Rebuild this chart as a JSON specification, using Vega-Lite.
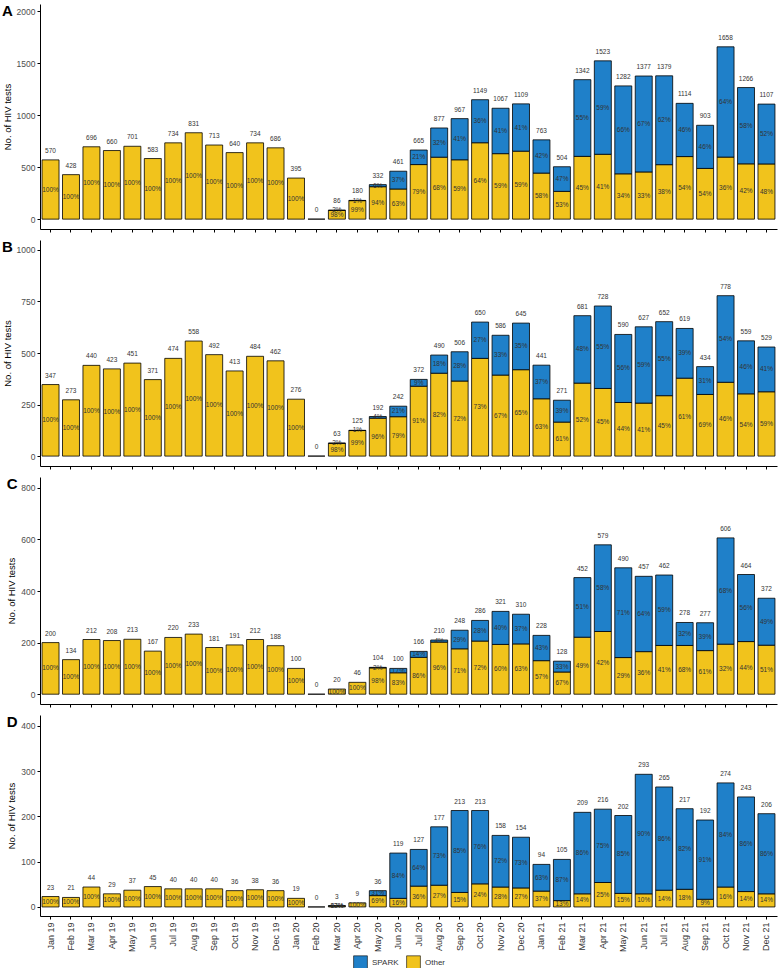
{
  "$schema": "https://vega.github.io/schema/vega-lite/v6.json",
  "padding": {"left": 2, "right": 2, "top": 4, "bottom": 0},
  "spacing": 7,
  "config": {
    "font": "Liberation Sans",
    "view": {"stroke": null},
    "axis": {"grid": false, "domainColor": "black", "tickColor": "black", "tickSize": 3, "labelColor": "#4d4d4d", "labelFontSize": 8.5, "labelPadding": 2, "titleFontSize": 9.5, "titleFontWeight": "normal", "titleColor": "black", "titlePadding": 4},
    "axisY": {"format": "d"},
    "legend": {"orient": "none", "legendX": 313, "legendY": 951, "direction": "horizontal", "title": null, "symbolType": "square", "symbolSize": 190, "symbolStrokeColor": "black", "symbolStrokeWidth": 0.6, "labelFontSize": 8, "labelColor": "#333", "columnPadding": 6, "padding": 0},
    "title": {"anchor": "start", "frame": "bounds", "fontSize": 15, "fontWeight": "bold", "color": "black", "offset": -15}
  },
  "resolve": {"scale": {"color": "shared"}, "legend": {"color": "shared"}},
  "datasets": {
    "A": [
      {"m":"Jan 19","g":"Other","n":570,"q":100},{"m":"Feb 19","g":"Other","n":428,"q":100},{"m":"Mar 19","g":"Other","n":696,"q":100},{"m":"Apr 19","g":"Other","n":660,"q":100},{"m":"May 19","g":"Other","n":701,"q":100},{"m":"Jun 19","g":"Other","n":583,"q":100},{"m":"Jul 19","g":"Other","n":734,"q":100},{"m":"Aug 19","g":"Other","n":831,"q":100},{"m":"Sep 19","g":"Other","n":713,"q":100},{"m":"Oct 19","g":"Other","n":640,"q":100},{"m":"Nov 19","g":"Other","n":734,"q":100},{"m":"Dec 19","g":"Other","n":686,"q":100},{"m":"Jan 20","g":"Other","n":395,"q":100},{"m":"Feb 20","g":"Other","n":0,"q":0},
      {"m":"Mar 20","g":"Other","n":84,"q":98},{"m":"Mar 20","g":"SPARK","n":2,"q":2},
      {"m":"Apr 20","g":"Other","n":178,"q":99},{"m":"Apr 20","g":"SPARK","n":2,"q":1},
      {"m":"May 20","g":"Other","n":312,"q":94},{"m":"May 20","g":"SPARK","n":20,"q":6},
      {"m":"Jun 20","g":"Other","n":290,"q":63},{"m":"Jun 20","g":"SPARK","n":171,"q":37},
      {"m":"Jul 20","g":"Other","n":525,"q":79},{"m":"Jul 20","g":"SPARK","n":140,"q":21},
      {"m":"Aug 20","g":"Other","n":596,"q":68},{"m":"Aug 20","g":"SPARK","n":281,"q":32},
      {"m":"Sep 20","g":"Other","n":571,"q":59},{"m":"Sep 20","g":"SPARK","n":396,"q":41},
      {"m":"Oct 20","g":"Other","n":735,"q":64},{"m":"Oct 20","g":"SPARK","n":414,"q":36},
      {"m":"Nov 20","g":"Other","n":630,"q":59},{"m":"Nov 20","g":"SPARK","n":437,"q":41},
      {"m":"Dec 20","g":"Other","n":654,"q":59},{"m":"Dec 20","g":"SPARK","n":455,"q":41},
      {"m":"Jan 21","g":"Other","n":443,"q":58},{"m":"Jan 21","g":"SPARK","n":320,"q":42},
      {"m":"Feb 21","g":"Other","n":267,"q":53},{"m":"Feb 21","g":"SPARK","n":237,"q":47},
      {"m":"Mar 21","g":"Other","n":604,"q":45},{"m":"Mar 21","g":"SPARK","n":738,"q":55},
      {"m":"Apr 21","g":"Other","n":624,"q":41},{"m":"Apr 21","g":"SPARK","n":899,"q":59},
      {"m":"May 21","g":"Other","n":436,"q":34},{"m":"May 21","g":"SPARK","n":846,"q":66},
      {"m":"Jun 21","g":"Other","n":454,"q":33},{"m":"Jun 21","g":"SPARK","n":923,"q":67},
      {"m":"Jul 21","g":"Other","n":524,"q":38},{"m":"Jul 21","g":"SPARK","n":855,"q":62},
      {"m":"Aug 21","g":"Other","n":602,"q":54},{"m":"Aug 21","g":"SPARK","n":512,"q":46},
      {"m":"Sep 21","g":"Other","n":488,"q":54},{"m":"Sep 21","g":"SPARK","n":415,"q":46},
      {"m":"Oct 21","g":"Other","n":597,"q":36},{"m":"Oct 21","g":"SPARK","n":1061,"q":64},
      {"m":"Nov 21","g":"Other","n":532,"q":42},{"m":"Nov 21","g":"SPARK","n":734,"q":58},
      {"m":"Dec 21","g":"Other","n":531,"q":48},{"m":"Dec 21","g":"SPARK","n":576,"q":52}
    ],
    "B": [
      {"m":"Jan 19","g":"Other","n":347,"q":100},{"m":"Feb 19","g":"Other","n":273,"q":100},{"m":"Mar 19","g":"Other","n":440,"q":100},{"m":"Apr 19","g":"Other","n":423,"q":100},{"m":"May 19","g":"Other","n":451,"q":100},{"m":"Jun 19","g":"Other","n":371,"q":100},{"m":"Jul 19","g":"Other","n":474,"q":100},{"m":"Aug 19","g":"Other","n":558,"q":100},{"m":"Sep 19","g":"Other","n":492,"q":100},{"m":"Oct 19","g":"Other","n":413,"q":100},{"m":"Nov 19","g":"Other","n":484,"q":100},{"m":"Dec 19","g":"Other","n":462,"q":100},{"m":"Jan 20","g":"Other","n":276,"q":100},{"m":"Feb 20","g":"Other","n":0,"q":0},
      {"m":"Mar 20","g":"Other","n":62,"q":98},{"m":"Mar 20","g":"SPARK","n":1,"q":2},
      {"m":"Apr 20","g":"Other","n":124,"q":99},{"m":"Apr 20","g":"SPARK","n":1,"q":1},
      {"m":"May 20","g":"Other","n":184,"q":96},{"m":"May 20","g":"SPARK","n":8,"q":4},
      {"m":"Jun 20","g":"Other","n":191,"q":79},{"m":"Jun 20","g":"SPARK","n":51,"q":21},
      {"m":"Jul 20","g":"Other","n":339,"q":91},{"m":"Jul 20","g":"SPARK","n":33,"q":9},
      {"m":"Aug 20","g":"Other","n":402,"q":82},{"m":"Aug 20","g":"SPARK","n":88,"q":18},
      {"m":"Sep 20","g":"Other","n":364,"q":72},{"m":"Sep 20","g":"SPARK","n":142,"q":28},
      {"m":"Oct 20","g":"Other","n":474,"q":73},{"m":"Oct 20","g":"SPARK","n":176,"q":27},
      {"m":"Nov 20","g":"Other","n":393,"q":67},{"m":"Nov 20","g":"SPARK","n":193,"q":33},
      {"m":"Dec 20","g":"Other","n":419,"q":65},{"m":"Dec 20","g":"SPARK","n":226,"q":35},
      {"m":"Jan 21","g":"Other","n":278,"q":63},{"m":"Jan 21","g":"SPARK","n":163,"q":37},
      {"m":"Feb 21","g":"Other","n":165,"q":61},{"m":"Feb 21","g":"SPARK","n":106,"q":39},
      {"m":"Mar 21","g":"Other","n":354,"q":52},{"m":"Mar 21","g":"SPARK","n":327,"q":48},
      {"m":"Apr 21","g":"Other","n":328,"q":45},{"m":"Apr 21","g":"SPARK","n":400,"q":55},
      {"m":"May 21","g":"Other","n":260,"q":44},{"m":"May 21","g":"SPARK","n":330,"q":56},
      {"m":"Jun 21","g":"Other","n":257,"q":41},{"m":"Jun 21","g":"SPARK","n":370,"q":59},
      {"m":"Jul 21","g":"Other","n":293,"q":45},{"m":"Jul 21","g":"SPARK","n":359,"q":55},
      {"m":"Aug 21","g":"Other","n":378,"q":61},{"m":"Aug 21","g":"SPARK","n":241,"q":39},
      {"m":"Sep 21","g":"Other","n":299,"q":69},{"m":"Sep 21","g":"SPARK","n":135,"q":31},
      {"m":"Oct 21","g":"Other","n":358,"q":46},{"m":"Oct 21","g":"SPARK","n":420,"q":54},
      {"m":"Nov 21","g":"Other","n":302,"q":54},{"m":"Nov 21","g":"SPARK","n":257,"q":46},
      {"m":"Dec 21","g":"Other","n":312,"q":59},{"m":"Dec 21","g":"SPARK","n":217,"q":41}
    ],
    "C": [
      {"m":"Jan 19","g":"Other","n":200,"q":100},{"m":"Feb 19","g":"Other","n":134,"q":100},{"m":"Mar 19","g":"Other","n":212,"q":100},{"m":"Apr 19","g":"Other","n":208,"q":100},{"m":"May 19","g":"Other","n":213,"q":100},{"m":"Jun 19","g":"Other","n":167,"q":100},{"m":"Jul 19","g":"Other","n":220,"q":100},{"m":"Aug 19","g":"Other","n":233,"q":100},{"m":"Sep 19","g":"Other","n":181,"q":100},{"m":"Oct 19","g":"Other","n":191,"q":100},{"m":"Nov 19","g":"Other","n":212,"q":100},{"m":"Dec 19","g":"Other","n":188,"q":100},{"m":"Jan 20","g":"Other","n":100,"q":100},{"m":"Feb 20","g":"Other","n":0,"q":0},
      {"m":"Mar 20","g":"Other","n":20,"q":100},
      {"m":"Apr 20","g":"Other","n":46,"q":100},
      {"m":"May 20","g":"Other","n":102,"q":98},{"m":"May 20","g":"SPARK","n":2,"q":2},
      {"m":"Jun 20","g":"Other","n":83,"q":83},{"m":"Jun 20","g":"SPARK","n":17,"q":17},
      {"m":"Jul 20","g":"Other","n":143,"q":86},{"m":"Jul 20","g":"SPARK","n":23,"q":14},
      {"m":"Aug 20","g":"Other","n":202,"q":96},{"m":"Aug 20","g":"SPARK","n":8,"q":4},
      {"m":"Sep 20","g":"Other","n":176,"q":71},{"m":"Sep 20","g":"SPARK","n":72,"q":29},
      {"m":"Oct 20","g":"Other","n":206,"q":72},{"m":"Oct 20","g":"SPARK","n":80,"q":28},
      {"m":"Nov 20","g":"Other","n":193,"q":60},{"m":"Nov 20","g":"SPARK","n":128,"q":40},
      {"m":"Dec 20","g":"Other","n":195,"q":63},{"m":"Dec 20","g":"SPARK","n":115,"q":37},
      {"m":"Jan 21","g":"Other","n":130,"q":57},{"m":"Jan 21","g":"SPARK","n":98,"q":43},
      {"m":"Feb 21","g":"Other","n":86,"q":67},{"m":"Feb 21","g":"SPARK","n":42,"q":33},
      {"m":"Mar 21","g":"Other","n":221,"q":49},{"m":"Mar 21","g":"SPARK","n":231,"q":51},
      {"m":"Apr 21","g":"Other","n":243,"q":42},{"m":"Apr 21","g":"SPARK","n":336,"q":58},
      {"m":"May 21","g":"Other","n":142,"q":29},{"m":"May 21","g":"SPARK","n":348,"q":71},
      {"m":"Jun 21","g":"Other","n":165,"q":36},{"m":"Jun 21","g":"SPARK","n":292,"q":64},
      {"m":"Jul 21","g":"Other","n":189,"q":41},{"m":"Jul 21","g":"SPARK","n":273,"q":59},
      {"m":"Aug 21","g":"Other","n":189,"q":68},{"m":"Aug 21","g":"SPARK","n":89,"q":32},
      {"m":"Sep 21","g":"Other","n":169,"q":61},{"m":"Sep 21","g":"SPARK","n":108,"q":39},
      {"m":"Oct 21","g":"Other","n":194,"q":32},{"m":"Oct 21","g":"SPARK","n":412,"q":68},
      {"m":"Nov 21","g":"Other","n":204,"q":44},{"m":"Nov 21","g":"SPARK","n":260,"q":56},
      {"m":"Dec 21","g":"Other","n":190,"q":51},{"m":"Dec 21","g":"SPARK","n":182,"q":49}
    ],
    "D": [
      {"m":"Jan 19","g":"Other","n":23,"q":100},{"m":"Feb 19","g":"Other","n":21,"q":100},{"m":"Mar 19","g":"Other","n":44,"q":100},{"m":"Apr 19","g":"Other","n":29,"q":100},{"m":"May 19","g":"Other","n":37,"q":100},{"m":"Jun 19","g":"Other","n":45,"q":100},{"m":"Jul 19","g":"Other","n":40,"q":100},{"m":"Aug 19","g":"Other","n":40,"q":100},{"m":"Sep 19","g":"Other","n":40,"q":100},{"m":"Oct 19","g":"Other","n":36,"q":100},{"m":"Nov 19","g":"Other","n":38,"q":100},{"m":"Dec 19","g":"Other","n":36,"q":100},{"m":"Jan 20","g":"Other","n":19,"q":100},{"m":"Feb 20","g":"Other","n":0,"q":0},
      {"m":"Mar 20","g":"Other","n":2,"q":67},{"m":"Mar 20","g":"SPARK","n":1,"q":33},
      {"m":"Apr 20","g":"Other","n":9,"q":100},
      {"m":"May 20","g":"Other","n":25,"q":69},{"m":"May 20","g":"SPARK","n":11,"q":31},
      {"m":"Jun 20","g":"Other","n":19,"q":16},{"m":"Jun 20","g":"SPARK","n":100,"q":84},
      {"m":"Jul 20","g":"Other","n":46,"q":36},{"m":"Jul 20","g":"SPARK","n":81,"q":64},
      {"m":"Aug 20","g":"Other","n":48,"q":27},{"m":"Aug 20","g":"SPARK","n":129,"q":73},
      {"m":"Sep 20","g":"Other","n":32,"q":15},{"m":"Sep 20","g":"SPARK","n":181,"q":85},
      {"m":"Oct 20","g":"Other","n":51,"q":24},{"m":"Oct 20","g":"SPARK","n":162,"q":76},
      {"m":"Nov 20","g":"Other","n":44,"q":28},{"m":"Nov 20","g":"SPARK","n":114,"q":72},
      {"m":"Dec 20","g":"Other","n":42,"q":27},{"m":"Dec 20","g":"SPARK","n":112,"q":73},
      {"m":"Jan 21","g":"Other","n":35,"q":37},{"m":"Jan 21","g":"SPARK","n":59,"q":63},
      {"m":"Feb 21","g":"Other","n":14,"q":13},{"m":"Feb 21","g":"SPARK","n":91,"q":87},
      {"m":"Mar 21","g":"Other","n":29,"q":14},{"m":"Mar 21","g":"SPARK","n":180,"q":86},
      {"m":"Apr 21","g":"Other","n":54,"q":25},{"m":"Apr 21","g":"SPARK","n":162,"q":75},
      {"m":"May 21","g":"Other","n":30,"q":15},{"m":"May 21","g":"SPARK","n":172,"q":85},
      {"m":"Jun 21","g":"Other","n":29,"q":10},{"m":"Jun 21","g":"SPARK","n":264,"q":90},
      {"m":"Jul 21","g":"Other","n":37,"q":14},{"m":"Jul 21","g":"SPARK","n":228,"q":86},
      {"m":"Aug 21","g":"Other","n":39,"q":18},{"m":"Aug 21","g":"SPARK","n":178,"q":82},
      {"m":"Sep 21","g":"Other","n":17,"q":9},{"m":"Sep 21","g":"SPARK","n":175,"q":91},
      {"m":"Oct 21","g":"Other","n":44,"q":16},{"m":"Oct 21","g":"SPARK","n":230,"q":84},
      {"m":"Nov 21","g":"Other","n":34,"q":14},{"m":"Nov 21","g":"SPARK","n":209,"q":86},
      {"m":"Dec 21","g":"Other","n":29,"q":14},{"m":"Dec 21","g":"SPARK","n":177,"q":86}
    ]
  },
  "vconcat": [
    {
      "data": {"name": "A"},
      "width": 737, "height": 225,
      "title": {"text": "A"},
      "encoding": {
        "x": {"field": "m", "type": "nominal", "scale": {"domain": ["Jan 19","Feb 19","Mar 19","Apr 19","May 19","Jun 19","Jul 19","Aug 19","Sep 19","Oct 19","Nov 19","Dec 19","Jan 20","Feb 20","Mar 20","Apr 20","May 20","Jun 20","Jul 20","Aug 20","Sep 20","Oct 20","Nov 20","Dec 20","Jan 21","Feb 21","Mar 21","Apr 21","May 21","Jun 21","Jul 21","Aug 21","Sep 21","Oct 21","Nov 21","Dec 21"], "paddingInner": 0.17, "paddingOuter": 0.1}, "axis": {"title": null, "labels": false}}
      },
      "layer": [
        {
          "transform": [{"stack": "n", "groupby": ["m"], "sort": [{"field": "g", "order": "ascending"}], "as": ["y0", "y1"]}],
          "mark": {"type": "bar", "stroke": "black", "strokeWidth": 0.8},
          "encoding": {
            "y": {"field": "y0", "type": "quantitative", "scale": {"domain": [-95, 2070], "nice": false, "zero": false}, "axis": {"values": [0, 500, 1000, 1500, 2000], "title": "No. of HIV tests"}},
            "y2": {"field": "y1"},
            "color": {"field": "g", "type": "nominal", "scale": {"domain": ["SPARK", "Other"], "range": ["#1f80c9", "#f1c31c"]}}
          }
        },
        {
          "transform": [
            {"stack": "n", "groupby": ["m"], "sort": [{"field": "g", "order": "ascending"}], "as": ["y0", "y1"]},
            {"filter": "datum.q > 0"},
            {"calculate": "(datum.y0 + datum.y1) / 2", "as": "ym"},
            {"calculate": "datum.q + '%'", "as": "lab"}
          ],
          "mark": {"type": "text", "fontSize": 6.5, "color": "#333"},
          "encoding": {"y": {"field": "ym", "type": "quantitative"}, "text": {"field": "lab"}}
        },
        {
          "transform": [{"aggregate": [{"op": "sum", "field": "n", "as": "t"}], "groupby": ["m"]}],
          "mark": {"type": "text", "fontSize": 6.5, "color": "#333", "baseline": "bottom", "dy": -6},
          "encoding": {"y": {"field": "t", "type": "quantitative"}, "text": {"field": "t"}}
        }
      ]
    },
    {
      "data": {"name": "B"},
      "width": 737, "height": 226,
      "title": {"text": "B"},
      "encoding": {
        "x": {"field": "m", "type": "nominal", "scale": {"domain": ["Jan 19","Feb 19","Mar 19","Apr 19","May 19","Jun 19","Jul 19","Aug 19","Sep 19","Oct 19","Nov 19","Dec 19","Jan 20","Feb 20","Mar 20","Apr 20","May 20","Jun 20","Jul 20","Aug 20","Sep 20","Oct 20","Nov 20","Dec 20","Jan 21","Feb 21","Mar 21","Apr 21","May 21","Jun 21","Jul 21","Aug 21","Sep 21","Oct 21","Nov 21","Dec 21"], "paddingInner": 0.17, "paddingOuter": 0.1}, "axis": {"title": null, "labels": false}}
      },
      "layer": [
        {
          "transform": [{"stack": "n", "groupby": ["m"], "sort": [{"field": "g", "order": "ascending"}], "as": ["y0", "y1"]}],
          "mark": {"type": "bar", "stroke": "black", "strokeWidth": 0.8},
          "encoding": {
            "y": {"field": "y0", "type": "quantitative", "scale": {"domain": [-48, 1048], "nice": false, "zero": false}, "axis": {"values": [0, 250, 500, 750, 1000], "title": "No. of HIV tests"}},
            "y2": {"field": "y1"},
            "color": {"field": "g", "type": "nominal", "scale": {"domain": ["SPARK", "Other"], "range": ["#1f80c9", "#f1c31c"]}}
          }
        },
        {
          "transform": [
            {"stack": "n", "groupby": ["m"], "sort": [{"field": "g", "order": "ascending"}], "as": ["y0", "y1"]},
            {"filter": "datum.q > 0"},
            {"calculate": "(datum.y0 + datum.y1) / 2", "as": "ym"},
            {"calculate": "datum.q + '%'", "as": "lab"}
          ],
          "mark": {"type": "text", "fontSize": 6.5, "color": "#333"},
          "encoding": {"y": {"field": "ym", "type": "quantitative"}, "text": {"field": "lab"}}
        },
        {
          "transform": [{"aggregate": [{"op": "sum", "field": "n", "as": "t"}], "groupby": ["m"]}],
          "mark": {"type": "text", "fontSize": 6.5, "color": "#333", "baseline": "bottom", "dy": -6},
          "encoding": {"y": {"field": "t", "type": "quantitative"}, "text": {"field": "t"}}
        }
      ]
    },
    {
      "data": {"name": "C"},
      "width": 737, "height": 227,
      "title": {"text": "C"},
      "encoding": {
        "x": {"field": "m", "type": "nominal", "scale": {"domain": ["Jan 19","Feb 19","Mar 19","Apr 19","May 19","Jun 19","Jul 19","Aug 19","Sep 19","Oct 19","Nov 19","Dec 19","Jan 20","Feb 20","Mar 20","Apr 20","May 20","Jun 20","Jul 20","Aug 20","Sep 20","Oct 20","Nov 20","Dec 20","Jan 21","Feb 21","Mar 21","Apr 21","May 21","Jun 21","Jul 21","Aug 21","Sep 21","Oct 21","Nov 21","Dec 21"], "paddingInner": 0.17, "paddingOuter": 0.1}, "axis": {"title": null, "labels": false}}
      },
      "layer": [
        {
          "transform": [{"stack": "n", "groupby": ["m"], "sort": [{"field": "g", "order": "ascending"}], "as": ["y0", "y1"]}],
          "mark": {"type": "bar", "stroke": "black", "strokeWidth": 0.8},
          "encoding": {
            "y": {"field": "y0", "type": "quantitative", "scale": {"domain": [-38, 842], "nice": false, "zero": false}, "axis": {"values": [0, 200, 400, 600, 800], "title": "No. of HIV tests"}},
            "y2": {"field": "y1"},
            "color": {"field": "g", "type": "nominal", "scale": {"domain": ["SPARK", "Other"], "range": ["#1f80c9", "#f1c31c"]}}
          }
        },
        {
          "transform": [
            {"stack": "n", "groupby": ["m"], "sort": [{"field": "g", "order": "ascending"}], "as": ["y0", "y1"]},
            {"filter": "datum.q > 0"},
            {"calculate": "(datum.y0 + datum.y1) / 2", "as": "ym"},
            {"calculate": "datum.q + '%'", "as": "lab"}
          ],
          "mark": {"type": "text", "fontSize": 6.5, "color": "#333"},
          "encoding": {"y": {"field": "ym", "type": "quantitative"}, "text": {"field": "lab"}}
        },
        {
          "transform": [{"aggregate": [{"op": "sum", "field": "n", "as": "t"}], "groupby": ["m"]}],
          "mark": {"type": "text", "fontSize": 6.5, "color": "#333", "baseline": "bottom", "dy": -6},
          "encoding": {"y": {"field": "t", "type": "quantitative"}, "text": {"field": "t"}}
        }
      ]
    },
    {
      "data": {"name": "D"},
      "width": 737, "height": 201,
      "title": {"text": "D"},
      "encoding": {
        "x": {"field": "m", "type": "nominal", "scale": {"domain": ["Jan 19","Feb 19","Mar 19","Apr 19","May 19","Jun 19","Jul 19","Aug 19","Sep 19","Oct 19","Nov 19","Dec 19","Jan 20","Feb 20","Mar 20","Apr 20","May 20","Jun 20","Jul 20","Aug 20","Sep 20","Oct 20","Nov 20","Dec 20","Jan 21","Feb 21","Mar 21","Apr 21","May 21","Jun 21","Jul 21","Aug 21","Sep 21","Oct 21","Nov 21","Dec 21"], "paddingInner": 0.17, "paddingOuter": 0.1}, "axis": {"title": null, "labelAngle": -90, "labelFontSize": 9, "labelColor": "#333", "labelPadding": 3}}
      },
      "layer": [
        {
          "transform": [{"stack": "n", "groupby": ["m"], "sort": [{"field": "g", "order": "ascending"}], "as": ["y0", "y1"]}],
          "mark": {"type": "bar", "stroke": "black", "strokeWidth": 0.8},
          "encoding": {
            "y": {"field": "y0", "type": "quantitative", "scale": {"domain": [-20, 424], "nice": false, "zero": false}, "axis": {"values": [0, 100, 200, 300, 400], "title": "No. of HIV tests"}},
            "y2": {"field": "y1"},
            "color": {"field": "g", "type": "nominal", "scale": {"domain": ["SPARK", "Other"], "range": ["#1f80c9", "#f1c31c"]}}
          }
        },
        {
          "transform": [
            {"stack": "n", "groupby": ["m"], "sort": [{"field": "g", "order": "ascending"}], "as": ["y0", "y1"]},
            {"filter": "datum.q > 0"},
            {"calculate": "(datum.y0 + datum.y1) / 2", "as": "ym"},
            {"calculate": "datum.q + '%'", "as": "lab"}
          ],
          "mark": {"type": "text", "fontSize": 6.5, "color": "#333"},
          "encoding": {"y": {"field": "ym", "type": "quantitative"}, "text": {"field": "lab"}}
        },
        {
          "transform": [{"aggregate": [{"op": "sum", "field": "n", "as": "t"}], "groupby": ["m"]}],
          "mark": {"type": "text", "fontSize": 6.5, "color": "#333", "baseline": "bottom", "dy": -6},
          "encoding": {"y": {"field": "t", "type": "quantitative"}, "text": {"field": "t"}}
        }
      ]
    }
  ]
}
